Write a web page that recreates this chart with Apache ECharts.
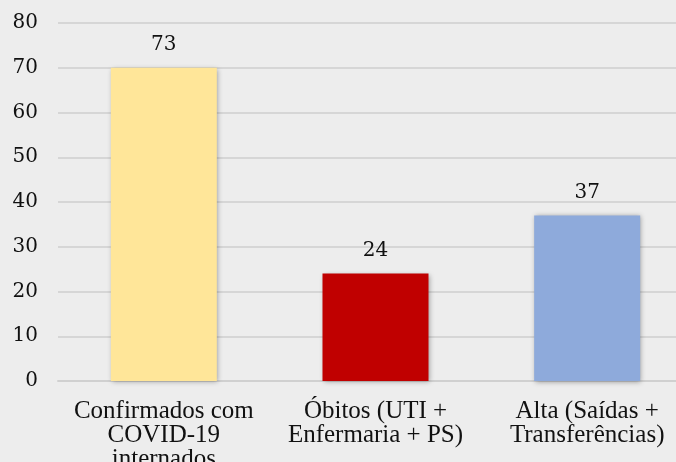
<!DOCTYPE html>
<html><head><meta charset="utf-8">
<script src="https://cdn.jsdelivr.net/npm/echarts@6/dist/echarts.min.js"></script>
<style>html,body{margin:0;padding:0;background:#ededed}#c{width:676px;height:462px}</style>
</head><body><div id="c"></div>
<script>
const categories = ['Confirmados com\nCOVID-19\ninternados', 'Óbitos (UTI +\nEnfermaria + PS)', 'Alta (Saídas +\nTransferências)'];
const barValues = [70, 24, 37];
const labelValues = [73, 24, 37];
const colors = ['#ffe699', '#c00000', '#8eaadb'];
const yTicks = [0, 10, 20, 30, 40, 50, 60, 70, 80];

const chart = echarts.init(document.getElementById('c'), null, {renderer: 'canvas'});
chart.setOption({
  backgroundColor: '#ededed',
  animation: false,
  grid: {left: 58, right: -17, top: 23, bottom: 81, containLabel: false, outerBoundsMode: 'none'},
  xAxis: {
    type: 'category', data: categories,
    axisLine: {lineStyle: {color: '#d0d0d0', width: 2}},
    axisTick: {show: false},
    axisLabel: {color: '#111', fontFamily: 'Liberation Serif', fontSize: 25, lineHeight: 24, margin: 18, interval: 0}
  },
  yAxis: {
    type: 'value', min: yTicks[0], max: yTicks[yTicks.length - 1], interval: 10,
    axisLine: {show: false}, axisTick: {show: false},
    splitLine: {lineStyle: {color: '#d6d6d6', width: 2}},
    axisLabel: {color: '#111', fontFamily: 'DejaVu Serif', fontSize: 20, margin: 20}
  },
  series: [{
    type: 'bar', barWidth: 106,
    data: barValues.map((v, i) => ({value: v, itemStyle: {color: colors[i]}})),
    itemStyle: {shadowColor: 'rgba(0,0,0,0.35)', shadowBlur: 5, shadowOffsetX: 1, shadowOffsetY: 1},
    label: {show: true, position: 'top', distance: 13, color: '#111', fontFamily: 'DejaVu Serif', fontSize: 20,
      formatter: p => String(labelValues[p.dataIndex])}
  }]
});
</script></body></html>
